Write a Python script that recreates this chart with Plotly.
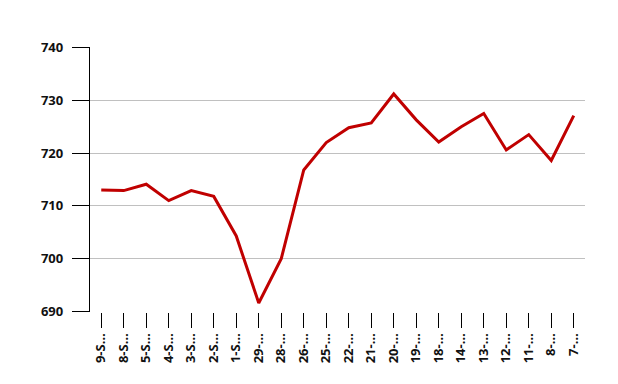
import plotly.graph_objects as go

categories = ["9-S…", "8-S…", "5-S…", "4-S…", "3-S…", "2-S…", "1-S…", "29-…", "28-…", "26-…", "25-…",
              "22-…", "21-…", "20-…", "19-…", "18-…", "14-…", "13-…", "12-…", "11-…", "8-…", "7-…"]
values = [713.0, 712.9, 714.1, 711.0, 712.9, 711.8, 704.3, 691.6, 700.0, 716.8, 722.0,
          724.8, 725.7, 731.2, 726.3, 722.1, 725.0, 727.5, 720.6, 723.5, 718.6, 727.1]
y_ticks = [690, 700, 710, 720, 730, 740]

fig = go.Figure(go.Scatter(
    x=categories, y=values, mode="lines",
    line=dict(color="#c00000", width=3),
))

tfont = dict(family="Noto Sans", size=13, color="#111111", weight="bold")
fig.update_layout(
    width=618, height=384,
    margin=dict(l=90, r=33, t=47, b=72),
    paper_bgcolor="white", plot_bgcolor="white",
    showlegend=False,
)
fig.update_xaxes(
    type="category", tickangle=-90,
    ticks="outside", ticklen=15, tickcolor="black", tickwidth=1.3,
    showgrid=False, showline=False,
    tickfont=tfont,
    range=[-0.5, len(categories) - 0.5],
)
fig.update_yaxes(
    range=[689.9, 740.1], tickvals=y_ticks,
    ticks="outside", ticklen=17, tickcolor="black", tickwidth=1.3,
    showline=True, linecolor="black", linewidth=1.3,
    showgrid=True, gridcolor="#c0c0c0", gridwidth=1.2,
    zeroline=False,
    tickfont=tfont,
    ticklabelstandoff=6,
)

fig.write_html("out.html")
